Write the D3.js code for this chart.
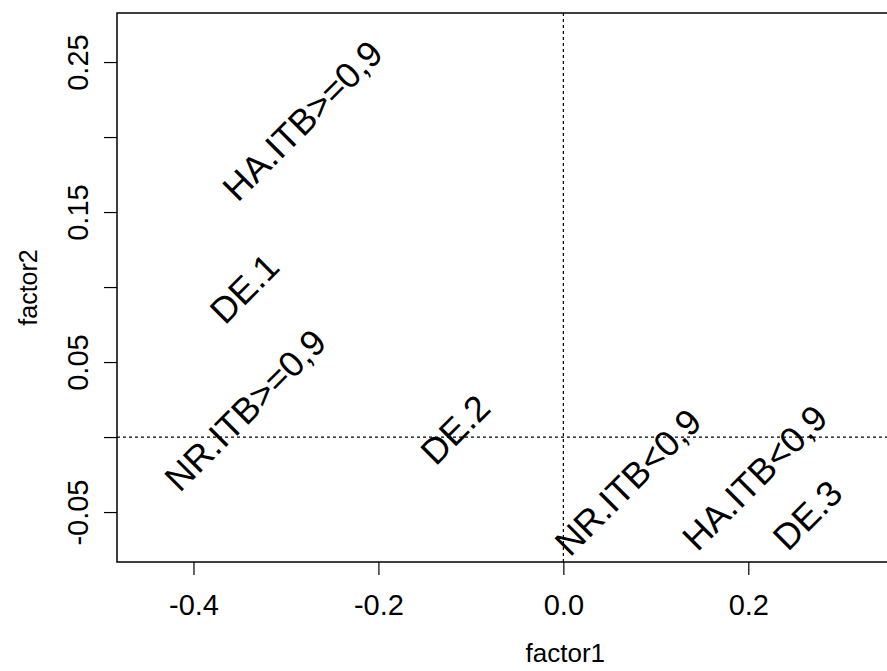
<!DOCTYPE html>
<html>
<head>
<meta charset="utf-8">
<script src="https://cdn.jsdelivr.net/npm/d3@7"></script>
<style>
  body { margin: 0; background: #fff; }
  text { font-family: "Liberation Sans", Arial, sans-serif; fill: #000; }
</style>
</head>
<body>
<div id="chart"></div>
<script>
// point labels and their coordinates on the two factors
const labels = ["HA.ITB>=0,9", "DE.1", "NR.ITB>=0,9", "DE.2", "NR.ITB<0,9", "HA.ITB<0,9", "DE.3"];
const factor1 = [-0.282, -0.345, -0.344, -0.117, 0.070, 0.207, 0.264];
const factor2 = [0.211, 0.099, 0.018, 0.005, -0.030, -0.027, -0.052];

// axis ticks
const xTicks = [-0.4, -0.2, 0.0, 0.2];
const xTickLabels = ["-0.4", "-0.2", "0.0", "0.2"];
const yTicks = [-0.05, 0.0, 0.05, 0.10, 0.15, 0.20, 0.25];
const yTickLabels = ["-0.05", "", "0.05", "", "0.15", "", "0.25"];

var svgWidth = 887, svgHeight = 671;
var margin = { top: 13, right: 0, bottom: 109, left: 117 };

var x = d3.scaleLinear().domain([-0.4827, 0.35]).range([margin.left, svgWidth - margin.right]);
var y = d3.scaleLinear().domain([-0.0833, 0.2827]).range([svgHeight - margin.bottom, margin.top]);

var svg = d3.select("#chart").append("svg")
    .attr("width", svgWidth)
    .attr("height", svgHeight);

// reference lines at zero
svg.append("line")
    .attr("x1", x.range()[0]).attr("x2", x.range()[1])
    .attr("y1", y(0)).attr("y2", y(0))
    .attr("stroke", "#000").attr("stroke-width", 1.2)
    .attr("stroke-dasharray", "3,3");
svg.append("line")
    .attr("x1", x(0)).attr("x2", x(0))
    .attr("y1", y.range()[0]).attr("y2", y.range()[1])
    .attr("stroke", "#000").attr("stroke-width", 1.2)
    .attr("stroke-dasharray", "3,3");

// box (right side falls outside the picture)
svg.append("rect")
    .attr("x", x.range()[0])
    .attr("y", y.range()[1])
    .attr("width", x.range()[1] - x.range()[0] + 20)
    .attr("height", y.range()[0] - y.range()[1])
    .attr("fill", "none")
    .attr("stroke", "#000")
    .attr("stroke-width", 1.5);

// x axis
var xAxis = d3.axisBottom(x).tickValues(xTicks).tickSize(13).tickPadding(14)
    .tickFormat(function (d, i) { return xTickLabels[i]; });
var gx = svg.append("g")
    .attr("transform", "translate(0," + y.range()[0] + ")")
    .call(xAxis);
gx.select(".domain").remove();
gx.selectAll("line").attr("stroke", "#000").attr("stroke-width", 1.2);
gx.selectAll("text")
    .style("font-size", "29px")
    .style("font-family", "Liberation Sans, Arial, sans-serif")
    .attr("y", 43).attr("dy", null)
    .attr("dominant-baseline", "central");

// y axis
var yAxis = d3.axisLeft(y).tickValues(yTicks).tickSize(13).tickPadding(0)
    .tickFormat(function (d, i) { return yTickLabels[i]; });
var gy = svg.append("g")
    .attr("transform", "translate(" + x.range()[0] + ",0)")
    .call(yAxis);
gy.select(".domain").remove();
gy.selectAll("line").attr("stroke", "#000").attr("stroke-width", 1.2);
gy.selectAll("text")
    .style("font-size", "29px")
    .style("font-family", "Liberation Sans, Arial, sans-serif")
    .attr("x", null).attr("dy", null)
    .attr("text-anchor", "middle")
    .attr("dominant-baseline", "central")
    .attr("transform", "translate(-39,0) rotate(-90)");

// axis titles
svg.append("text")
    .attr("x", x(0) + 2)
    .attr("y", 653)
    .attr("text-anchor", "middle")
    .attr("dominant-baseline", "central")
    .style("font-size", "26px")
    .text("factor1");
svg.append("text")
    .attr("transform", "translate(28," + (y.range()[0] + y.range()[1]) / 2 + ") rotate(-90)")
    .attr("text-anchor", "middle")
    .attr("dominant-baseline", "central")
    .style("font-size", "25px")
    .text("factor2");

// point labels, rotated 45 degrees
svg.selectAll(".lbl")
    .data(labels).enter()
    .append("text")
    .attr("class", "lbl")
    .attr("text-anchor", "middle")
    .attr("dominant-baseline", "central")
    .attr("transform", function (d, i) {
        return "translate(" + x(factor1[i]) + "," + y(factor2[i]) + ") rotate(-45)";
    })
    .style("font-size", "36px")
    .text(function (d) { return d; });
</script>
</body>
</html>
